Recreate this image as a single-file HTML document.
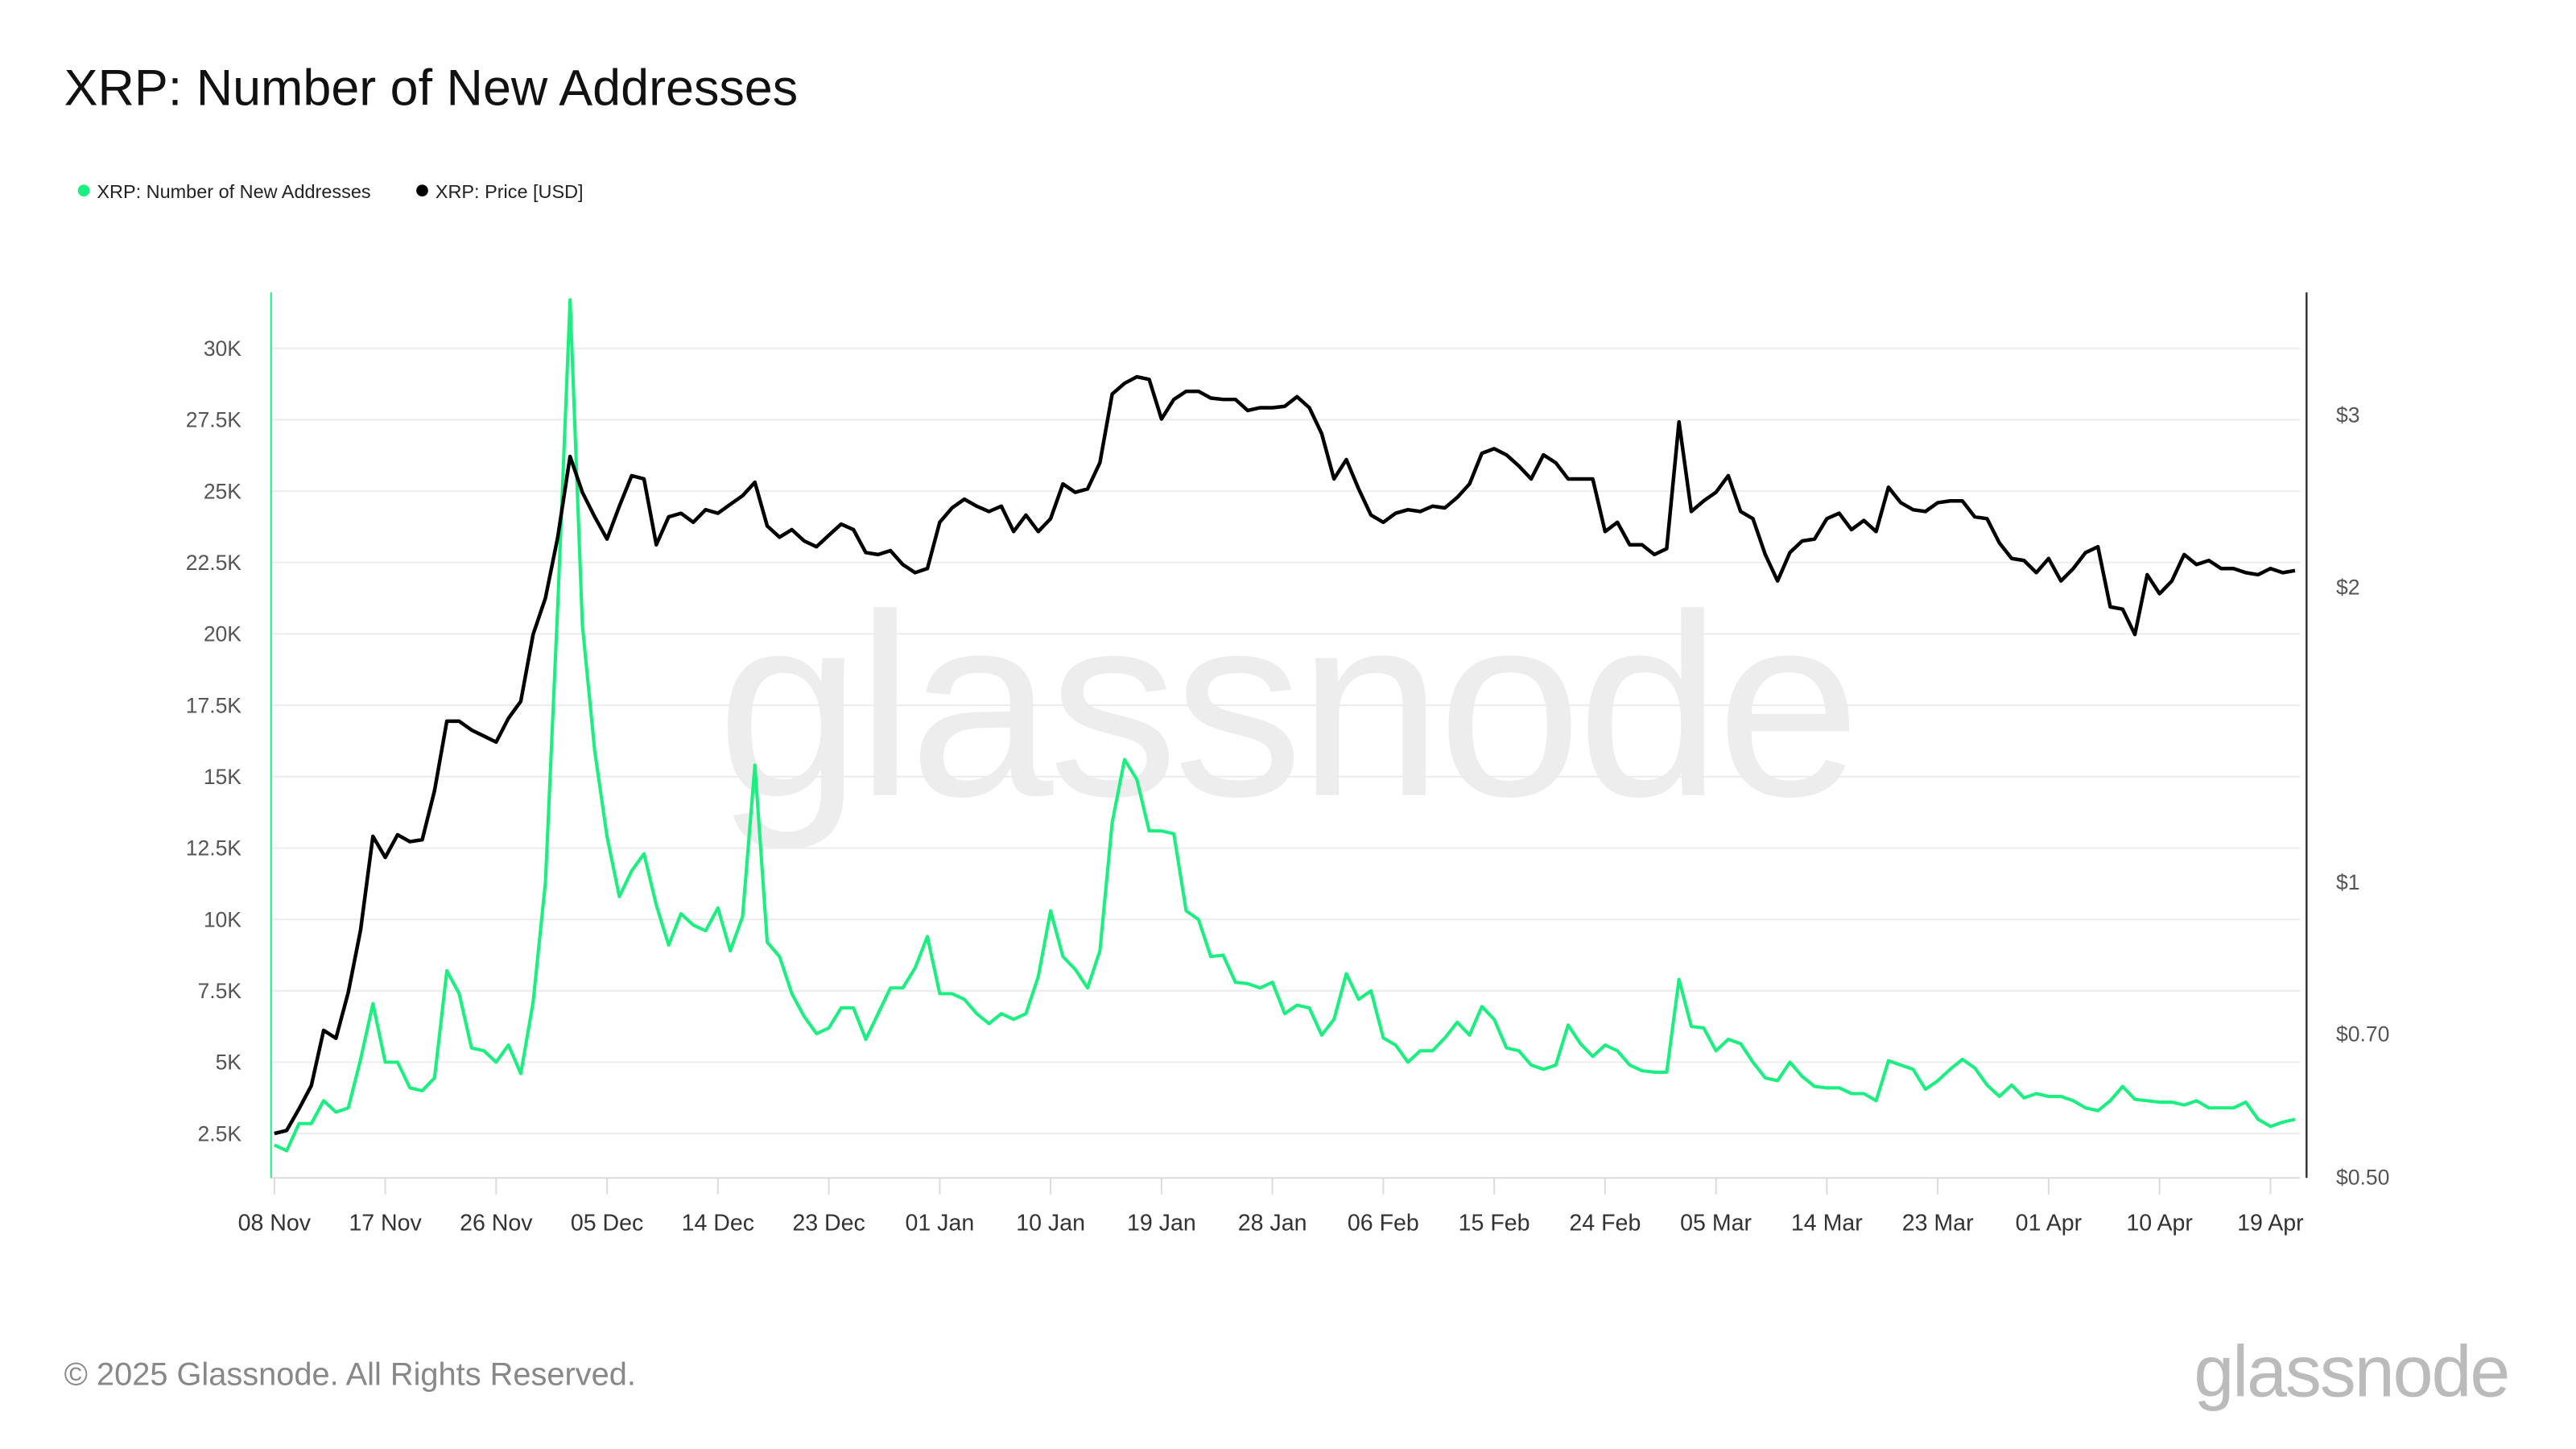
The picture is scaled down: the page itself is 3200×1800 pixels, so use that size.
<!DOCTYPE html>
<html><head><meta charset="utf-8"><style>
html,body{margin:0;padding:0;background:#fff;width:3200px;height:1800px;overflow:hidden}
svg{display:block}
text{font-family:"Liberation Sans",sans-serif}
</style></head><body>
<svg id="chart" width="3200" height="1800" viewBox="0 0 1568 882" preserveAspectRatio="none" xmlns="http://www.w3.org/2000/svg">
<rect x="0" y="0" width="1568" height="882" fill="#fff"/>
<text x="39" y="64" font-size="30.8" fill="#111">XRP: Number of New Addresses</text>
<g>
<g><circle cx="51" cy="116" r="3.6" fill="#19f07f"/><text x="59" y="120.5" font-size="11.5" fill="#222">XRP: Number of New Addresses</text></g>
<g><circle cx="257" cy="116" r="3.6" fill="#000"/><text x="265" y="120.5" font-size="11.5" fill="#222">XRP: Price [USD]</text></g>
</g>
<text x="783" y="484" font-size="158" fill="#000" fill-opacity="0.07" text-anchor="middle" letter-spacing="-3">glassnode</text>
<g id="grid"></g>
<g id="yleft"></g>
<g id="yright"></g>
<g id="xaxis"></g>
<line x1="165" y1="178" x2="165" y2="717" stroke="#19f07f" stroke-width="1"/>
<line x1="1404" y1="178" x2="1404" y2="717" stroke="#333" stroke-width="1.2"/>
<g id="series"></g>
<text x="39" y="843" font-size="19.5" fill="#888">© 2025 Glassnode. All Rights Reserved.</text>
<text x="1527" y="850" font-size="44" fill="#bbb" text-anchor="end" letter-spacing="-1">glassnode</text>
</svg>
<script>
const xTickLabels = ["08 Nov","17 Nov","26 Nov","05 Dec","14 Dec","23 Dec","01 Jan","10 Jan","19 Jan","28 Jan","06 Feb","15 Feb","24 Feb","05 Mar","14 Mar","23 Mar","01 Apr","10 Apr","19 Apr"];
const leftTicks = [2500,5000,7500,10000,12500,15000,17500,20000,22500,25000,27500,30000];
const leftTickLabels = ["2.5K","5K","7.5K","10K","12.5K","15K","17.5K","20K","22.5K","25K","27.5K","30K"];
const rightTicks = [0.5,0.7,1,2,3];
const rightTickLabels = ["$0.50","$0.70","$1","$2","$3"];
const newAddresses = [2.1,1.9,2.85,2.85,3.65,3.25,3.4,5.1,7.05,5.0,5.0,4.1,4.0,4.45,8.2,7.4,5.5,5.4,5.0,5.6,4.6,7.1,11.3,21,31.7,20.3,15.9,12.9,10.8,11.7,12.3,10.5,9.1,10.2,9.8,9.6,10.4,8.9,10.1,15.4,9.2,8.7,7.4,6.6,6.0,6.2,6.9,6.9,5.8,6.7,7.6,7.6,8.3,9.4,7.4,7.4,7.2,6.7,6.35,6.7,6.5,6.7,8.0,10.3,8.7,8.25,7.6,8.9,13.4,15.6,14.9,13.1,13.1,13.0,10.3,10.0,8.7,8.75,7.8,7.75,7.6,7.8,6.7,7.0,6.9,5.95,6.5,8.1,7.2,7.5,5.85,5.6,5.0,5.4,5.4,5.85,6.4,5.95,6.95,6.5,5.5,5.4,4.9,4.75,4.9,6.3,5.65,5.2,5.6,5.4,4.9,4.7,4.65,4.65,7.9,6.25,6.2,5.4,5.8,5.65,5.0,4.45,4.35,5.0,4.5,4.15,4.1,4.1,3.9,3.9,3.65,5.05,4.9,4.75,4.05,4.35,4.75,5.1,4.8,4.2,3.8,4.2,3.75,3.9,3.8,3.8,3.65,3.4,3.3,3.65,4.15,3.7,3.65,3.6,3.6,3.5,3.65,3.4,3.4,3.4,3.6,3.0,2.75,2.9,3.0].map(v=>v*1000);
const price = [0.554,0.558,0.587,0.620,0.706,0.693,0.772,0.894,1.114,1.06,1.118,1.10,1.105,1.24,1.46,1.46,1.43,1.41,1.39,1.47,1.53,1.79,1.95,2.25,2.72,2.50,2.36,2.24,2.42,2.60,2.58,2.21,2.36,2.38,2.33,2.40,2.38,2.43,2.48,2.56,2.31,2.25,2.29,2.23,2.20,2.26,2.32,2.29,2.17,2.16,2.18,2.11,2.07,2.09,2.33,2.41,2.46,2.42,2.39,2.42,2.28,2.37,2.28,2.35,2.55,2.50,2.52,2.68,3.15,3.23,3.28,3.26,2.97,3.11,3.17,3.17,3.12,3.11,3.11,3.03,3.05,3.05,3.06,3.13,3.05,2.87,2.58,2.70,2.52,2.37,2.33,2.38,2.40,2.39,2.42,2.41,2.47,2.55,2.74,2.77,2.73,2.66,2.58,2.73,2.68,2.58,2.58,2.58,2.28,2.33,2.21,2.21,2.16,2.19,2.95,2.39,2.45,2.50,2.60,2.39,2.35,2.16,2.03,2.17,2.23,2.24,2.35,2.38,2.29,2.34,2.28,2.53,2.44,2.40,2.39,2.44,2.45,2.45,2.36,2.35,2.22,2.14,2.13,2.07,2.14,2.03,2.09,2.17,2.20,1.91,1.90,1.79,2.06,1.97,2.03,2.16,2.11,2.13,2.09,2.09,2.07,2.06,2.09,2.07,2.08];

const NS = "http://www.w3.org/2000/svg";
const X0 = 167, DAY = 7.5;
function xPos(i){ return X0 + i*DAY; }
function yLeft(v){ return 690 - (v-2500)/2500*43.45; }
function yRight(p){ return 537 - 259*Math.log(p); }
function mk(tag, attrs, parent){ const e=document.createElementNS(NS,tag); for(const k in attrs) e.setAttribute(k,attrs[k]); parent.appendChild(e); return e; }

const grid=document.getElementById('grid'), yl=document.getElementById('yleft'), yr=document.getElementById('yright'), xa=document.getElementById('xaxis'), ser=document.getElementById('series');
leftTicks.forEach((v,i)=>{
  const y=yLeft(v);
  const g=mk('line',{x1:165,x2:1400,y1:y,y2:y,stroke:'#ececec','stroke-width':1},grid);
  
  
  const t=mk('text',{x:147,y:y+4.5,'font-size':13,fill:'#555','text-anchor':'end'},yl);
  t.textContent=leftTickLabels[i];
  
  
});
rightTicks.forEach((p,i)=>{
  const t=mk('text',{x:1422,y:yRight(p)+4.5,'font-size':13,fill:'#555'},yr);
  t.textContent=rightTickLabels[i];
  
  
});
const base=mk('line',{x1:165,x2:1400,y1:717,y2:717,stroke:'#dcdcdc','stroke-width':1},xa);


xTickLabels.forEach((lab,i)=>{
  const x=xPos(i*9);
  const tk=mk('line',{x1:x,x2:x,y1:717,y2:727,stroke:'#dcdcdc','stroke-width':1},xa);
  
  
  const t=mk('text',{x:x,y:749,'font-size':14,fill:'#333','text-anchor':'middle'},xa);
  t.textContent=lab;
  
  
});
const gp=mk('polyline',{points:newAddresses.map((v,i)=>xPos(i)+','+yLeft(v)).join(' '),fill:'none',stroke:'#19f07f','stroke-width':2,'stroke-linejoin':'round'},ser);


const bp=mk('polyline',{points:price.map((v,i)=>xPos(i)+','+yRight(v)).join(' '),fill:'none',stroke:'#000','stroke-width':2.2,'stroke-linejoin':'round'},ser);


</script>
</body></html>
